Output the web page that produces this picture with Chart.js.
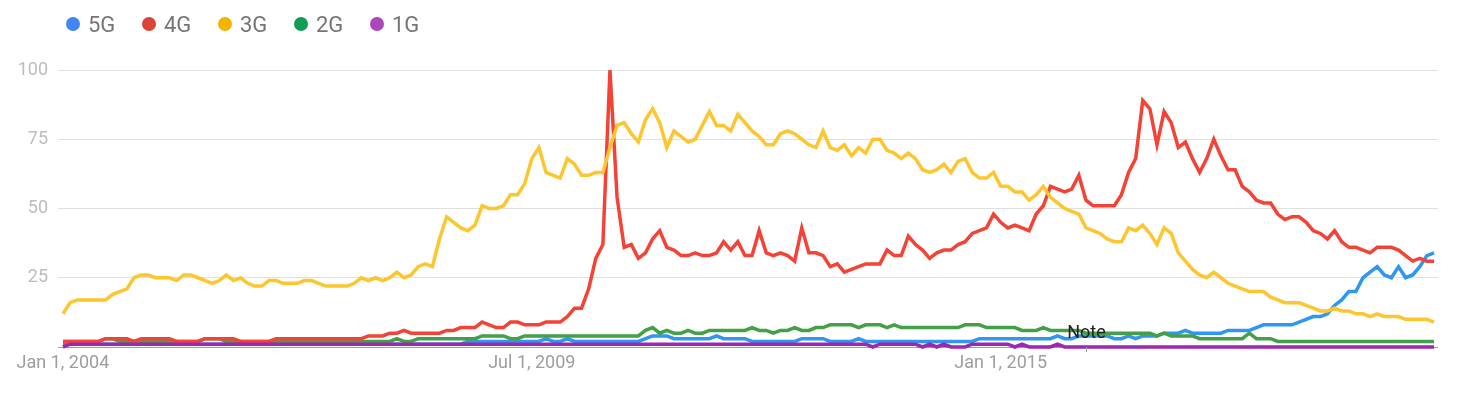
<!DOCTYPE html>
<html>
<head>
<meta charset="utf-8">
<script src="https://cdn.jsdelivr.net/npm/chart.js@4/dist/chart.umd.min.js"></script>
<style>
html, body { margin: 0; padding: 0; background: #fff; }
#wrap { position: relative; width: 1468px; height: 393px; }
canvas { position: absolute; left: 0; top: 0; }
#legend { position: absolute; left: 0; top: 0; font-family: Roboto, sans-serif; font-size: 22px; color: #757575; }
.item { position: absolute; top: 11px; height: 26px; display: flex; align-items: center; white-space: nowrap; }
.dot { width: 14px; height: 14px; border-radius: 50%; margin-right: 8px; }
</style>
</head>
<body>
<div id="wrap">
  <canvas id="trends" width="1468" height="393"></canvas>
  <div id="legend"></div>
</div>
<script>
//  Series names and colours 
const seriesNames  = ['5G', '4G', '3G', '2G', '1G'];
const lineColors   = ['#2f96f2', '#f44336', '#fdc62f', '#43a047', '#9c27b0'];
const legendColors = ['#4285f4', '#db4437', '#f4b400', '#0f9d58', '#ab47bc'];
// lower number = drawn on top (1G over 3G over 4G over 2G over 5G)
const drawOrder    = [5, 3, 2, 4, 1];

//  Monthly values, Jan 2004 .. Feb 2020 (194 months) 
const s5G = [
  1,1,1,1,1,1,1,1,1,1,
  1,1,1,1,1,1,1,1,1,1,
  1,1,1,1,1,1,1,1,1,1,
  1,1,1,1,1,1,1,1,1,1,
  1,1,1,1,1,1,1,1,1,1,
  1,1,1,1,1,1,1,2,2,2,
  2,2,2,2,2,2,2,2,3,2,
  2,3,2,2,2,2,2,2,2,2,
  2,2,3,4,4,4,3,3,3,3,
  3,3,4,3,3,3,3,2,2,2,
  2,2,2,2,3,3,3,3,2,2,
  2,2,3,2,2,2,2,2,2,2,
  2,2,2,2,2,2,2,2,2,3,
  3,3,3,3,3,3,3,3,3,3,
  4,3,3,4,4,4,4,4,3,3,
  4,3,4,4,4,5,5,5,6,5,
  5,5,5,5,6,6,6,6,7,8,
  8,8,8,8,9,10,11,11,12,15,
  17,20,20,25,27,29,26,25,29,25,
  26,29,33,34
];
const s4G = [
  2,2,2,2,2,2,3,3,3,3,
  2,3,3,3,3,3,2,2,2,2,
  3,3,3,3,3,2,2,2,2,2,
  3,3,3,3,3,3,3,3,3,3,
  3,3,3,4,4,4,5,5,6,5,
  5,5,5,5,6,6,7,7,7,9,
  8,7,7,9,9,8,8,8,9,9,
  9,11,14,14,21,32,37,100,54,36,
  37,32,34,39,42,36,35,33,33,34,
  33,33,34,38,35,38,33,33,42,34,
  33,34,33,31,43,34,34,33,29,30,
  27,28,29,30,30,30,35,33,33,40,
  37,35,32,34,35,35,37,38,41,42,
  43,48,45,43,44,43,42,48,51,58,
  57,56,57,62,53,51,51,51,51,55,
  63,68,89,86,73,85,81,72,74,68,
  63,68,75,69,64,64,58,56,53,52,
  52,48,46,47,47,45,42,41,39,42,
  38,36,36,35,34,36,36,36,35,33,
  31,32,31,31
];
const s3G = [
  12,16,17,17,17,17,17,19,20,21,
  25,26,26,25,25,25,24,26,26,25,
  24,23,24,26,24,25,23,22,22,24,
  24,23,23,23,24,24,23,22,22,22,
  22,23,25,24,25,24,25,27,25,26,
  29,30,29,39,47,45,43,42,44,51,
  50,50,51,55,55,59,68,72,63,62,
  61,68,66,62,62,63,63,72,80,81,
  77,74,82,86,81,72,78,76,74,75,
  80,85,80,80,78,84,81,78,76,73,
  73,77,78,77,75,73,72,78,72,71,
  73,69,72,70,75,75,71,70,68,70,
  68,64,63,64,66,63,67,68,63,61,
  61,63,58,58,56,56,53,55,58,54,
  52,50,49,48,43,42,41,39,38,38,
  43,42,44,41,37,43,41,34,31,28,
  26,25,27,25,23,22,21,20,20,20,
  18,17,16,16,16,15,14,13,13,14,
  13,13,12,12,11,12,11,11,11,10,
  10,10,10,9
];
const s2G = [
  2,2,2,2,2,2,3,3,2,2,
  2,2,2,2,2,2,2,2,2,2,
  3,3,3,2,2,2,2,2,2,2,
  2,2,2,2,2,2,2,2,2,2,
  2,2,2,2,2,2,2,3,2,2,
  3,3,3,3,3,3,3,3,3,4,
  4,4,4,3,3,4,4,4,4,4,
  4,4,4,4,4,4,4,4,4,4,
  4,4,6,7,5,6,5,5,6,5,
  5,6,6,6,6,6,6,7,6,6,
  5,6,6,7,6,6,7,7,8,8,
  8,8,7,8,8,8,7,8,7,7,
  7,7,7,7,7,7,7,8,8,8,
  7,7,7,7,7,6,6,6,7,6,
  6,6,6,6,5,5,5,5,5,5,
  5,5,5,5,4,5,4,4,4,4,
  3,3,3,3,3,3,3,5,3,3,
  3,2,2,2,2,2,2,2,2,2,
  2,2,2,2,2,2,2,2,2,2,
  2,2,2,2
];
const s1G = [
  0,1,1,1,1,1,1,1,1,1,
  1,1,1,1,1,1,1,1,1,1,
  1,1,1,1,1,1,1,1,1,1,
  1,1,1,1,1,1,1,1,1,1,
  1,1,1,1,1,1,1,1,1,1,
  1,1,1,1,1,1,1,1,1,1,
  1,1,1,1,1,1,1,1,1,1,
  1,1,1,1,1,1,1,1,1,1,
  1,1,1,1,1,1,1,1,1,1,
  1,1,1,1,1,1,1,1,1,1,
  1,1,1,1,1,1,1,1,1,1,
  1,1,1,1,0,1,1,1,1,1,
  1,0,1,0,1,0,0,0,1,1,
  1,1,1,1,0,1,0,0,0,0,
  1,0,0,0,0,0,0,0,0,0,
  0,0,0,0,0,0,0,0,0,0,
  0,0,0,0,0,0,0,0,0,0,
  0,0,0,0,0,0,0,0,0,0,
  0,0,0,0,0,0,0,0,0,0,
  0,0,0,0
];
const allSeries = [s5G, s4G, s3G, s2G, s1G];

//  Axis ticks 
const xTickIndex  = [0, 66, 132];
const xTickLabels = ['Jan 1, 2004', 'Jul 1, 2009', 'Jan 1, 2015'];
const yTicks      = [0, 25, 50, 75, 100];
const noteIndex   = 144;
const noteText    = 'Note';

//  HTML legend 
const legendBox = document.getElementById('legend');
seriesNames.forEach((name, k) => {
    const item = document.createElement('div');
    item.className = 'item';
    item.style.left = (66 + 76 * k) + 'px';
    item.innerHTML = `<span class="dot" style="background:${legendColors[k]}"></span>${name}`;
    legendBox.appendChild(item);
});

//  "Note" annotation on the baseline 
const notePlugin = {
    id: 'note',
    afterDatasetsDraw(chart) {
        const { ctx, scales: { x, y } } = chart;
        const px = Math.round(x.getPixelForValue(noteIndex)) + 0.5;
        const base = y.getPixelForValue(0);
        ctx.save();
        ctx.strokeStyle = '#9e9e9e';
        ctx.lineWidth = 1;
        ctx.beginPath();
        ctx.moveTo(px, base);
        ctx.lineTo(px, base + 5);
        ctx.stroke();
        ctx.font = '18px Roboto';
        ctx.fillStyle = '#222';
        ctx.textAlign = 'center';
        ctx.textBaseline = 'alphabetic';
        ctx.fillText(noteText, px, base - 9);
        ctx.restore();
    }
};

Chart.defaults.font.family = 'Roboto';

const ctxTrends = document.getElementById('trends').getContext('2d');
new Chart(ctxTrends, {
    type: 'line',
    data: {
        datasets: allSeries.map((vals, k) => ({
            label: seriesNames[k],
            data: vals.map((v, i) => ({ x: i, y: v })),
            borderColor: lineColors[k],
            backgroundColor: lineColors[k],
            borderWidth: 3.5,
            pointRadius: 0,
            tension: 0,
            fill: false,
            clip: false,
            order: drawOrder[k]
        }))
    },
    options: {
        responsive: false,
        animation: false,
        layout: { padding: { top: 70, right: 30, left: 0, bottom: 0 } },
        plugins: {
            legend: { display: false },
            tooltip: { enabled: false }
        },
        scales: {
            x: {
                type: 'linear',
                min: -0.7,
                max: 193.56,
                grid: { display: false, drawTicks: false },
                border: { display: false },
                afterBuildTicks: s => { s.ticks = xTickIndex.map(v => ({ value: v })); },
                afterFit: s => { s.height = 46; },
                ticks: {
                    autoSkip: false,
                    maxRotation: 0,
                    padding: 6,
                    color: '#9e9e9e',
                    font: { size: 18 },
                    callback: v => xTickLabels[xTickIndex.indexOf(v)]
                }
            },
            y: {
                min: 0,
                max: 100,
                afterBuildTicks: s => { s.ticks = yTicks.map(v => ({ value: v })); },
                afterFit: s => { s.width = 58; },
                grid: {
                    drawTicks: false,
                    color: c => c.tick.value === 0 ? '#9e9e9e' : '#e0e0e0'
                },
                border: { display: false },
                ticks: {
                    padding: 10,
                    color: '#bdbdbd',
                    font: { size: 18 },
                    callback: v => v === 0 ? '' : v
                }
            }
        }
    },
    plugins: [notePlugin]
});
</script>
</body>
</html>
